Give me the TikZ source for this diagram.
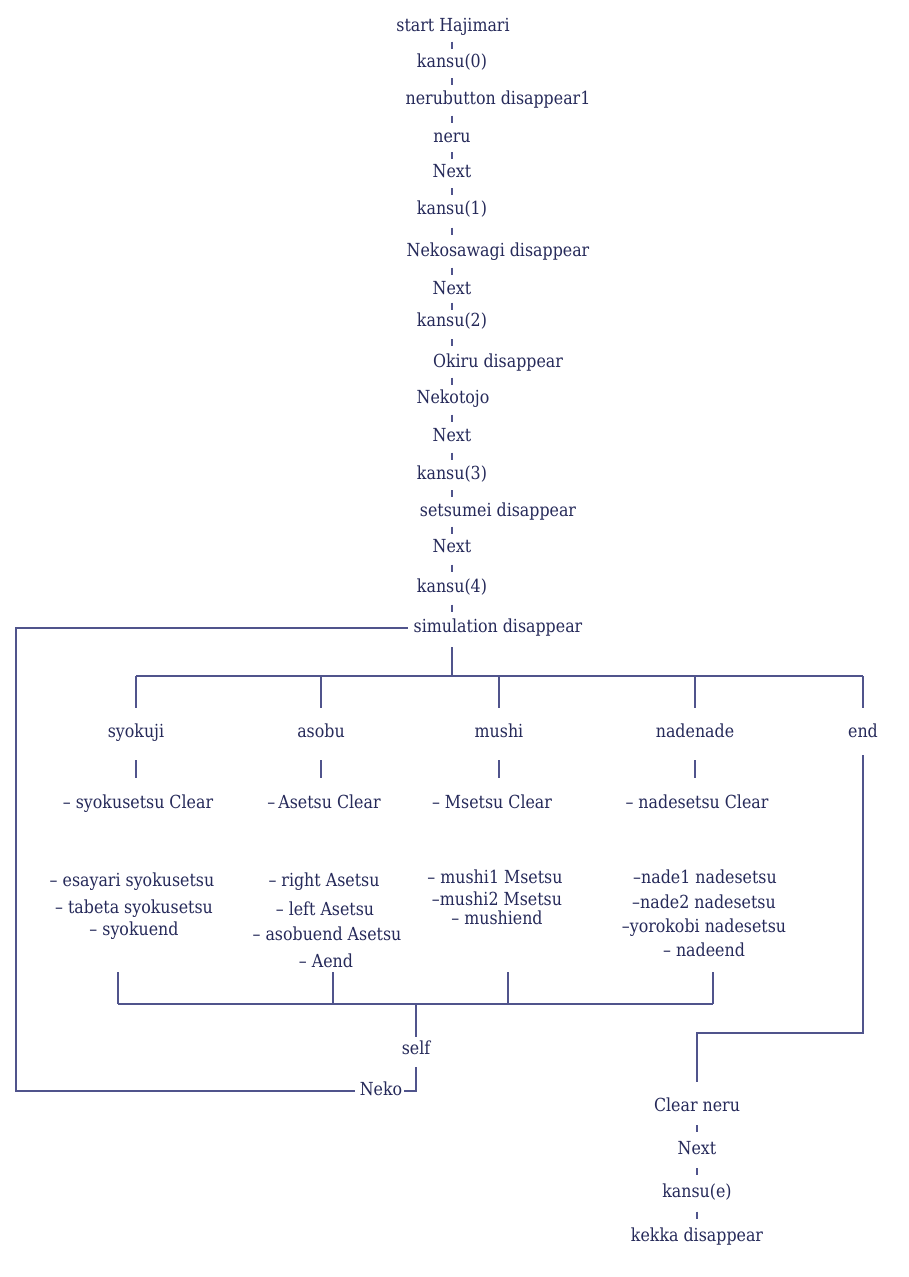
\documentclass[tikz,border=0pt]{standalone}
\usepackage{fontspec}
\setmainfont{DejaVu Serif}[FakeStretch=0.88]
\usetikzlibrary{calc}
\definecolor{ink}{RGB}{38,42,90}
\definecolor{wire}{RGB}{80,84,140}
% short vertical tick on column #1, halfway between nodes #2 and #3
\newcommand\vtick[3]{%
  \path (#2) -- (#3) coordinate[midway] (tkmid);
  \draw[tickline] (#1 |- tkmid) ++(0,-3.5) -- ++(0,7);}
\begin{document}
\begin{tikzpicture}[x=1pt,y=-1pt,
  lbl/.style={inner sep=0pt, text height=13.5pt, text depth=4.5pt, text=ink,
              font=\fontsize{18}{21}\selectfont},
  link/.style={draw=wire, line width=1.2pt},
  tickline/.style={draw=wire, line width=1.2pt}]
\useasboundingbox[fill=white] (0,0) rectangle (908,1277);

% main column
\coordinate (col) at (452,0);
\node[lbl] (s0)  at (453,27)  {start Hajimari};
\node[lbl] (s1)  at (452,63)  {kansu(0)};
\node[lbl] (s2)  at (498,100) {nerubutton disappear1};
\node[lbl] (s3)  at (452,138) {neru};
\node[lbl] (s4)  at (452,173) {Next};
\node[lbl] (s5)  at (452,210) {kansu(1)};
\node[lbl] (s6)  at (498,252) {Nekosawagi disappear};
\node[lbl] (s7)  at (452,290) {Next};
\node[lbl] (s8)  at (452,322) {kansu(2)};
\node[lbl] (s9)  at (498,363) {Okiru disappear};
\node[lbl] (s10) at (453,399) {Nekotojo};
\node[lbl] (s11) at (452,437) {Next};
\node[lbl] (s12) at (452,475) {kansu(3)};
\node[lbl] (s13) at (498,512) {setsumei disappear};
\node[lbl] (s14) at (452,548) {Next};
\node[lbl] (s15) at (452,588) {kansu(4)};
\node[lbl] (sim) at (498,628) {simulation disappear};
\foreach \a/\b in {s0/s1,s1/s2,s2/s3,s3/s4,s4/s5,s5/s6,s6/s7,s7/s8,s8/s9,
                   s9/s10,s10/s11,s11/s12,s12/s13,s13/s14,s14/s15,s15/sim}
  {\vtick{col}{\a}{\b}}

% branches
\coordinate (bus) at (452,676);
\node[lbl] (syo)  at (136,733) {syokuji};
\node[lbl] (aso)  at (321,733) {asobu};
\node[lbl] (mus)  at (499,733) {mushi};
\node[lbl] (nad)  at (695,733) {nadenade};
\node[lbl] (endn) at (863,733) {end};
\draw[link, shorten <=10pt] (bus |- sim.south) -- (bus);
\draw[link] (syo |- bus) -- (endn |- bus);
\foreach \n in {syo,aso,mus,nad,endn}
  {\draw[link, shorten >=16pt] (\n |- bus) -- (\n);}

% syokuji
\node[lbl] (syoc) at (138,804) {– syokusetsu Clear};
\node[lbl] (syo1) at (132,882) {– esayari syokusetsu};
\node[lbl] (syo2) at (134,909) {– tabeta syokusetsu};
\node[lbl] (syo3) at (134,931) {– syokuend};
% asobu
\node[lbl] (asoc) at (324,804) {–\,Asetsu Clear};
\node[lbl] (aso1) at (324,882) {– right Asetsu};
\node[lbl] (aso2) at (325,911) {– left Asetsu};
\node[lbl] (aso3) at (327,936) {– asobuend Asetsu};
\node[lbl] (aso4) at (326,963) {– Aend};
% mushi
\node[lbl] (musc) at (492,804) {– Msetsu Clear};
\node[lbl] (mus1) at (495,879) {– mushi1 Msetsu};
\node[lbl] (mus2) at (497,901) {–mushi2 Msetsu};
\node[lbl] (mus3) at (497,920) {– mushiend};
% nadenade
\node[lbl] (nadc) at (697,804) {– nadesetsu Clear};
\node[lbl] (nad1) at (705,879) {–nade1 nadesetsu};
\node[lbl] (nad2) at (704,904) {–nade2 nadesetsu};
\node[lbl] (nad3) at (704,928) {–yorokobi nadesetsu};
\node[lbl] (nad4) at (704,952) {– nadeend};

\draw[link, shorten <=18pt, shorten >=26pt] (syo) -- (syo |- syoc);
\draw[link, shorten <=18pt, shorten >=26pt] (aso) -- (aso |- asoc);
\draw[link, shorten <=18pt, shorten >=26pt] (mus) -- (mus |- musc);
\draw[link, shorten <=18pt, shorten >=26pt] (nad) -- (nad |- nadc);

% merge back into self
\coordinate (bus2) at (416,1004);
\coordinate (j1) at (118,972);
\coordinate (j2) at (333,972);
\coordinate (j3) at (508,972);
\coordinate (j4) at (713,972);
\draw[link] (j1 |- bus2) -- (j4 |- bus2);
\foreach \j in {j1,j2,j3,j4} {\draw[link] (\j) -- (\j |- bus2);}
\node[lbl] (self) at (416,1050) {self};
\node[lbl, inner xsep=2pt] (neko) at (381,1091) {Neko};
\draw[link, shorten >=4pt] (bus2) -- (self);
\draw[link, shorten <=8pt] (self) |- (neko);
\coordinate (loop) at (16,1091);
\draw[link, shorten <=6pt, shorten >=3pt] (sim) -| (loop) -- (neko);

% end branch
\node[lbl] (cn) at (697,1107) {Clear neru};
\node[lbl] (e1) at (697,1150) {Next};
\node[lbl] (e2) at (697,1193) {kansu(e)};
\node[lbl] (e3) at (697,1237) {kekka disappear};
\draw[link, shorten <=13pt, shorten >=16pt] (endn) |- ($(cn)+(0,-74)$) -- (cn);
\coordinate (col2) at (697,0);
\vtick{col2}{cn}{e1}
\vtick{col2}{e1}{e2}
\vtick{col2}{e2}{e3}
\end{tikzpicture}
\end{document}
